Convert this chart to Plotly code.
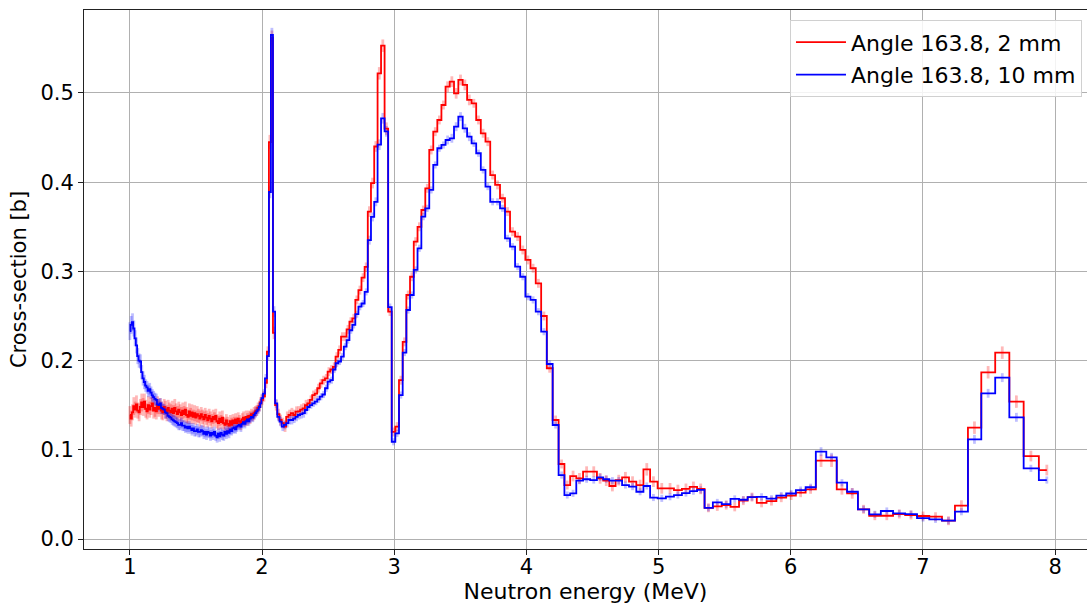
import plotly.graph_objects as go

# ---------------------------------------------------------------
# Bin centres (MeV) and cross-sections (b), split into energy ranges
# ---------------------------------------------------------------

# 1.00 - 2.00 MeV
energy_lo = [
    1.00, 1.01, 1.02, 1.03, 1.04, 1.05, 1.06, 1.07, 1.08, 1.09,
    1.10, 1.11, 1.12, 1.13, 1.14, 1.15, 1.16, 1.17, 1.18, 1.19,
    1.20, 1.21, 1.22, 1.23, 1.24, 1.25, 1.26, 1.27, 1.28, 1.29,
    1.30, 1.31, 1.32, 1.33, 1.34, 1.35, 1.36, 1.37, 1.38, 1.39,
    1.40, 1.41, 1.42, 1.43, 1.44, 1.45, 1.46, 1.47, 1.48, 1.49,
    1.50, 1.51, 1.52, 1.53, 1.54, 1.55, 1.56, 1.57, 1.58, 1.59,
    1.60, 1.61, 1.62, 1.63, 1.64, 1.65, 1.66, 1.67, 1.68, 1.69,
    1.70, 1.71, 1.72, 1.73, 1.74, 1.75, 1.76, 1.77, 1.78, 1.79,
    1.80, 1.81, 1.82, 1.83, 1.84, 1.85, 1.86, 1.87, 1.88, 1.89,
    1.90, 1.91, 1.92, 1.93, 1.94, 1.95, 1.96, 1.97, 1.98, 1.99,
    2.00,
]
xs_2mm_lo = [
    0.139, 0.135, 0.142, 0.149, 0.145, 0.151, 0.144, 0.142, 0.148, 0.153,
    0.148, 0.154, 0.146, 0.143, 0.150, 0.145, 0.149, 0.152, 0.144, 0.147,
    0.143, 0.150, 0.146, 0.149, 0.144, 0.142, 0.148, 0.145, 0.141, 0.147,
    0.144, 0.142, 0.146, 0.141, 0.147, 0.143, 0.140, 0.145, 0.142, 0.139,
    0.144, 0.140, 0.145, 0.139, 0.137, 0.143, 0.138, 0.142, 0.137, 0.141,
    0.136, 0.140, 0.138, 0.135, 0.140, 0.137, 0.134, 0.139, 0.136, 0.133,
    0.138, 0.135, 0.132, 0.137, 0.134, 0.138, 0.132, 0.130, 0.135, 0.131,
    0.136, 0.130, 0.128, 0.133, 0.129, 0.127, 0.132, 0.128, 0.133, 0.130,
    0.134, 0.130, 0.135, 0.132, 0.129, 0.134, 0.136, 0.132, 0.137, 0.134,
    0.138, 0.136, 0.140, 0.138, 0.141, 0.143, 0.144, 0.147, 0.149, 0.153,
    0.156,
]
xs_10mm_lo = [
    0.233, 0.240, 0.243, 0.236, 0.225, 0.217, 0.205, 0.200, 0.199, 0.187,
    0.180, 0.176, 0.172, 0.170, 0.166, 0.168, 0.164, 0.161, 0.159, 0.157,
    0.156, 0.151, 0.150, 0.152, 0.147, 0.146, 0.145, 0.142, 0.141, 0.138,
    0.137, 0.136, 0.134, 0.133, 0.132, 0.131, 0.130, 0.128, 0.128, 0.130,
    0.127, 0.127, 0.125, 0.126, 0.124, 0.126, 0.124, 0.122, 0.124, 0.121,
    0.121, 0.123, 0.120, 0.120, 0.122, 0.121, 0.118, 0.120, 0.117, 0.120,
    0.119, 0.116, 0.119, 0.117, 0.120, 0.116, 0.114, 0.118, 0.115, 0.119,
    0.117, 0.116, 0.120, 0.118, 0.121, 0.119, 0.123, 0.121, 0.124, 0.125,
    0.123, 0.126, 0.127, 0.128, 0.126, 0.129, 0.131, 0.129, 0.132, 0.134,
    0.132, 0.135, 0.137, 0.136, 0.139, 0.141, 0.143, 0.145, 0.148, 0.152,
    0.158,
]
err_2mm_lo = [
    0.010, 0.009, 0.009, 0.010, 0.009, 0.010, 0.009, 0.010, 0.009, 0.010,
    0.010, 0.009, 0.010, 0.009, 0.010, 0.009, 0.010, 0.009, 0.009, 0.010,
    0.009, 0.010, 0.009, 0.009, 0.010, 0.009, 0.009, 0.010, 0.009, 0.009,
    0.009, 0.009, 0.009, 0.009, 0.010, 0.009, 0.009, 0.009, 0.009, 0.009,
    0.009, 0.009, 0.009, 0.009, 0.008, 0.009, 0.009, 0.009, 0.008, 0.009,
    0.008, 0.009, 0.008, 0.009, 0.008, 0.008, 0.009, 0.008, 0.008, 0.008,
    0.008, 0.008, 0.008, 0.008, 0.008, 0.008, 0.008, 0.008, 0.008, 0.008,
    0.008, 0.007, 0.008, 0.007, 0.008, 0.007, 0.007, 0.008, 0.007, 0.007,
    0.007, 0.007, 0.007, 0.007, 0.007, 0.007, 0.007, 0.006, 0.007, 0.007,
    0.006, 0.007, 0.006, 0.006, 0.007, 0.006, 0.006, 0.006, 0.006, 0.006,
    0.006,
]
err_10mm_lo = [
    0.010, 0.010, 0.010, 0.009, 0.009, 0.009, 0.009, 0.008, 0.008, 0.008,
    0.008, 0.008, 0.007, 0.007, 0.007, 0.007, 0.007, 0.007, 0.007, 0.007,
    0.007, 0.006, 0.007, 0.006, 0.007, 0.006, 0.006, 0.007, 0.006, 0.006,
    0.006, 0.006, 0.006, 0.006, 0.006, 0.006, 0.006, 0.006, 0.006, 0.006,
    0.006, 0.006, 0.006, 0.006, 0.006, 0.006, 0.006, 0.006, 0.006, 0.006,
    0.006, 0.006, 0.006, 0.006, 0.006, 0.006, 0.006, 0.006, 0.006, 0.006,
    0.006, 0.006, 0.006, 0.006, 0.006, 0.006, 0.006, 0.006, 0.006, 0.006,
    0.006, 0.006, 0.006, 0.006, 0.006, 0.006, 0.006, 0.005, 0.006, 0.006,
    0.005, 0.006, 0.005, 0.005, 0.006, 0.005, 0.005, 0.005, 0.005, 0.005,
    0.005, 0.005, 0.005, 0.005, 0.005, 0.005, 0.005, 0.005, 0.005, 0.005,
    0.005,
]

# 2.0 - 3.0 MeV (narrow resonance at 2.07 MeV and the 2.9 MeV peak)
energy_mid = [
    2.0145, 2.0295, 2.0445, 2.0595, 2.0745, 2.0905, 2.107, 2.1235, 2.140, 2.157,
    2.174, 2.191, 2.2085, 2.226, 2.2435, 2.261, 2.279, 2.297, 2.315, 2.333,
    2.351, 2.370, 2.389, 2.408, 2.427, 2.446, 2.466, 2.486, 2.506, 2.526,
    2.546, 2.566, 2.587, 2.608, 2.629, 2.650, 2.672, 2.694, 2.7175, 2.7405,
    2.764, 2.788, 2.812, 2.836, 2.861, 2.887, 2.9135, 2.9405, 2.9675,
]
xs_2mm_mid = [
    0.160, 0.175, 0.210, 0.445, 0.562, 0.231, 0.150, 0.140, 0.1334, 0.130,
    0.126, 0.137, 0.139, 0.141, 0.139, 0.1427, 0.143, 0.145, 0.1465, 0.150,
    0.152, 0.156, 0.1614, 0.163, 0.169, 0.1745, 0.178, 0.180, 0.1876, 0.190,
    0.193, 0.2044, 0.212, 0.2268, 0.2268, 0.235, 0.2436, 0.2474, 0.268, 0.279,
    0.293, 0.305, 0.367, 0.399, 0.440, 0.522, 0.553, 0.460, 0.255,
]
xs_10mm_mid = [
    0.163, 0.180, 0.205, 0.389, 0.565, 0.255, 0.152, 0.137, 0.1315, 0.126,
    0.128, 0.130, 0.1334, 0.1334, 0.135, 0.137, 0.139, 0.140, 0.141, 0.1446,
    0.148, 0.150, 0.152, 0.154, 0.1566, 0.1595, 0.162, 0.169, 0.1764, 0.178,
    0.190, 0.197, 0.199, 0.2044, 0.2156, 0.223, 0.234, 0.240, 0.252, 0.2604,
    0.264, 0.277, 0.335, 0.361, 0.378, 0.442, 0.4716, 0.457, 0.260,
]
err_2mm_mid = [
    0.006, 0.006, 0.006, 0.008, 0.008, 0.007, 0.006, 0.006, 0.006, 0.006,
    0.006, 0.006, 0.006, 0.006, 0.006, 0.006, 0.006, 0.006, 0.006, 0.006,
    0.005, 0.005, 0.005, 0.005, 0.005, 0.005, 0.005, 0.005, 0.005, 0.005,
    0.005, 0.005, 0.005, 0.005, 0.005, 0.005, 0.005, 0.005, 0.005, 0.005,
    0.005, 0.005, 0.006, 0.006, 0.006, 0.007, 0.007, 0.007, 0.005,
]
err_10mm_mid = [
    0.005, 0.005, 0.005, 0.007, 0.008, 0.006, 0.005, 0.005, 0.005, 0.005,
    0.005, 0.005, 0.005, 0.005, 0.005, 0.005, 0.005, 0.005, 0.005, 0.005,
    0.004, 0.004, 0.004, 0.004, 0.004, 0.004, 0.004, 0.004, 0.004, 0.004,
    0.004, 0.004, 0.004, 0.004, 0.004, 0.004, 0.004, 0.004, 0.004, 0.004,
    0.004, 0.004, 0.005, 0.005, 0.005, 0.006, 0.006, 0.006, 0.004,
]

# 3.0 - 4.3 MeV (broad maximum near 3.5 MeV)
energy_hump = [
    2.9945, 3.022, 3.050, 3.078, 3.1055, 3.1335, 3.162, 3.1905, 3.220, 3.250,
    3.280, 3.3105, 3.3415, 3.3725, 3.404, 3.436, 3.4685, 3.5015, 3.5345, 3.568,
    3.6025, 3.6375, 3.6725, 3.708, 3.7445, 3.7815, 3.819, 3.857, 3.895, 3.9335,
    3.9725, 4.0115, 4.0505, 4.0905, 4.1325, 4.176, 4.221, 4.266, 4.309,
]
xs_2mm_hump = [
    0.120, 0.126, 0.178, 0.221, 0.2735, 0.294, 0.3333, 0.350, 0.3688, 0.3931,
    0.4361, 0.4566, 0.4697, 0.4865, 0.507, 0.5127, 0.4996, 0.5146, 0.509, 0.4922,
    0.4884, 0.4697, 0.4548, 0.4454, 0.408, 0.3969, 0.382, 0.367, 0.3445, 0.339,
    0.324, 0.3128, 0.3035, 0.2866, 0.250, 0.1914, 0.1334, 0.0841, 0.0605,
]
xs_10mm_hump = [
    0.109, 0.1185, 0.1614, 0.209, 0.2567, 0.2735, 0.3016, 0.3259, 0.3613, 0.3707,
    0.3913, 0.4193, 0.438, 0.4417, 0.4473, 0.4492, 0.4622, 0.4735, 0.4604, 0.451,
    0.4436, 0.4324, 0.4137, 0.395, 0.378, 0.378, 0.3707, 0.337, 0.3277, 0.3053,
    0.294, 0.2716, 0.268, 0.2548, 0.2324, 0.1962, 0.1278, 0.0717, 0.0493,
]
err_2mm_hump = [
    0.005, 0.005, 0.005, 0.005, 0.005, 0.005, 0.005, 0.005, 0.005, 0.005,
    0.005, 0.005, 0.005, 0.005, 0.006, 0.006, 0.006, 0.006, 0.006, 0.006,
    0.005, 0.005, 0.005, 0.005, 0.005, 0.005, 0.005, 0.005, 0.005, 0.005,
    0.005, 0.005, 0.005, 0.005, 0.005, 0.005, 0.005, 0.005, 0.005,
]
err_10mm_hump = [
    0.004, 0.004, 0.004, 0.004, 0.004, 0.004, 0.004, 0.004, 0.004, 0.004,
    0.004, 0.004, 0.004, 0.004, 0.005, 0.005, 0.005, 0.005, 0.005, 0.005,
    0.004, 0.004, 0.004, 0.004, 0.004, 0.004, 0.004, 0.004, 0.004, 0.004,
    0.004, 0.004, 0.004, 0.004, 0.004, 0.004, 0.004, 0.004, 0.004,
]

# 4.3 - 8.0 MeV (tail, 6.2 MeV bump and 7.6 MeV peak)
energy_hi = [
    4.353, 4.4015, 4.4555, 4.5095, 4.5575, 4.604, 4.6505, 4.6985, 4.749, 4.803,
    4.860, 4.9105, 4.961, 5.024, 5.0865, 5.146, 5.207, 5.2635, 5.3185, 5.377,
    5.444, 5.5115, 5.576, 5.641, 5.7065, 5.779, 5.854, 5.928, 6.0025, 6.0745,
    6.150, 6.229, 6.3085, 6.387, 6.465, 6.5505, 6.636, 6.7265, 6.821, 6.9095,
    7.0005, 7.095, 7.193, 7.291, 7.3895, 7.493, 7.600, 7.707, 7.8165, 7.937,
]
xs_2mm_hi = [
    0.0706, 0.068, 0.0755, 0.0755, 0.068, 0.0654, 0.0594, 0.066, 0.0692, 0.0643,
    0.0605, 0.0781, 0.0643, 0.0568, 0.0568, 0.0549, 0.0562, 0.0584, 0.0562, 0.035,
    0.0365, 0.038, 0.036, 0.043, 0.047, 0.0405, 0.0425, 0.0463, 0.0487, 0.0519,
    0.0557, 0.0878, 0.0878, 0.0557, 0.0512, 0.0333, 0.0261, 0.0261, 0.028, 0.0269,
    0.0258, 0.025, 0.0205, 0.0374, 0.1248, 0.1869, 0.2089, 0.154, 0.093, 0.0773,
]
xs_10mm_hi = [
    0.0512, 0.0654, 0.067, 0.0661, 0.0692, 0.067, 0.0654, 0.0654, 0.0605, 0.0587,
    0.053, 0.0594, 0.0465, 0.0456, 0.0474, 0.0493, 0.0515, 0.0536, 0.0551, 0.035,
    0.041, 0.039, 0.045, 0.044, 0.047, 0.0473, 0.0452, 0.0487, 0.051, 0.0549,
    0.058, 0.0979, 0.0916, 0.0631, 0.053, 0.0333, 0.0277, 0.0314, 0.0288, 0.028,
    0.0235, 0.022, 0.0205, 0.0306, 0.1117, 0.1633, 0.1809, 0.1364, 0.0792, 0.0661,
]
err_2mm_hi = [
    0.006, 0.006, 0.006, 0.006, 0.006, 0.006, 0.006, 0.006, 0.006, 0.006,
    0.006, 0.007, 0.006, 0.006, 0.006, 0.006, 0.006, 0.006, 0.006, 0.005,
    0.005, 0.005, 0.005, 0.005, 0.005, 0.005, 0.005, 0.005, 0.005, 0.005,
    0.005, 0.007, 0.007, 0.006, 0.006, 0.005, 0.005, 0.005, 0.005, 0.005,
    0.005, 0.005, 0.005, 0.006, 0.007, 0.007, 0.007, 0.007, 0.006, 0.006,
]
err_10mm_hi = [
    0.004, 0.004, 0.004, 0.004, 0.004, 0.004, 0.004, 0.004, 0.004, 0.004,
    0.004, 0.004, 0.004, 0.004, 0.004, 0.004, 0.004, 0.004, 0.004, 0.004,
    0.004, 0.004, 0.004, 0.004, 0.004, 0.004, 0.004, 0.004, 0.004, 0.004,
    0.004, 0.005, 0.005, 0.004, 0.004, 0.004, 0.004, 0.004, 0.004, 0.004,
    0.004, 0.004, 0.004, 0.004, 0.005, 0.005, 0.005, 0.005, 0.004, 0.004,
]

energy = energy_lo + energy_mid + energy_hump + energy_hi
xs_2mm = xs_2mm_lo + xs_2mm_mid + xs_2mm_hump + xs_2mm_hi
xs_10mm = xs_10mm_lo + xs_10mm_mid + xs_10mm_hump + xs_10mm_hi
err_2mm = err_2mm_lo + err_2mm_mid + err_2mm_hump + err_2mm_hi
err_10mm = err_10mm_lo + err_10mm_mid + err_10mm_hump + err_10mm_hi

series = [
    ("Angle 163.8, 2 mm", xs_2mm, err_2mm, "#ff0000", "rgba(255,0,0,0.28)"),
    ("Angle 163.8, 10 mm", xs_10mm, err_10mm, "#0000ff", "rgba(0,0,255,0.25)"),
]

FONT = "DejaVu Sans"
FS = 22

fig = go.Figure()

# translucent error bars at bin centres
for name, ys, errs, col, ecol in series:
    fig.add_trace(go.Scatter(
        x=energy, y=ys, mode="markers",
        marker=dict(size=1, color="rgba(0,0,0,0)"),
        error_y=dict(type="data", array=errs, visible=True,
                     color=ecol, thickness=2.8, width=0),
        showlegend=False, hoverinfo="skip",
    ))

# step histograms (steps centred on each bin)
for i, (name, ys, errs, col, ecol) in enumerate(series):
    fig.add_trace(go.Scatter(
        x=energy, y=ys, mode="lines", name=name,
        line=dict(color=col, width=1.8, shape="hvh"),
        legendgroup=f"g{i}",
    ))

axis_common = dict(
    showgrid=True, gridcolor="#b0b0b0", gridwidth=1,
    showline=True, linecolor="#222222", linewidth=1,
    ticks="outside", ticklen=5, tickwidth=1, tickcolor="#222222",
    zeroline=False,
    tickfont=dict(family=FONT, size=21, color="black"),
)

fig.update_xaxes(
    range=[0.653, 8.241], tickvals=[1, 2, 3, 4, 5, 6, 7, 8],
    mirror=True, ticklabelstandoff=-6,
    title=dict(text="Neutron energy (MeV)", standoff=4,
               font=dict(family=FONT, size=FS, color="black")),
    **axis_common,
)
fig.update_yaxes(
    range=[-0.0112, 0.593], tick0=0, dtick=0.1, tickformat=".1f",
    title=dict(text="Cross-section [b]", standoff=8,
               font=dict(family=FONT, size=21, color="black")),
    **axis_common,
)

fig.update_layout(
    width=1087, height=610,
    margin=dict(l=84, r=0, t=10, b=61),
    plot_bgcolor="white", paper_bgcolor="white",
    font=dict(family=FONT, size=FS, color="black"),
    legend=dict(
        x=0.995, y=0.981, xanchor="right", yanchor="top",
        bgcolor="rgba(255,255,255,0.85)", bordercolor="#d0d0d0", borderwidth=1,
        font=dict(family=FONT, size=FS, color="black"),
        tracegroupgap=1, itemwidth=50,
    ),
)

fig.write_html("out.html")
